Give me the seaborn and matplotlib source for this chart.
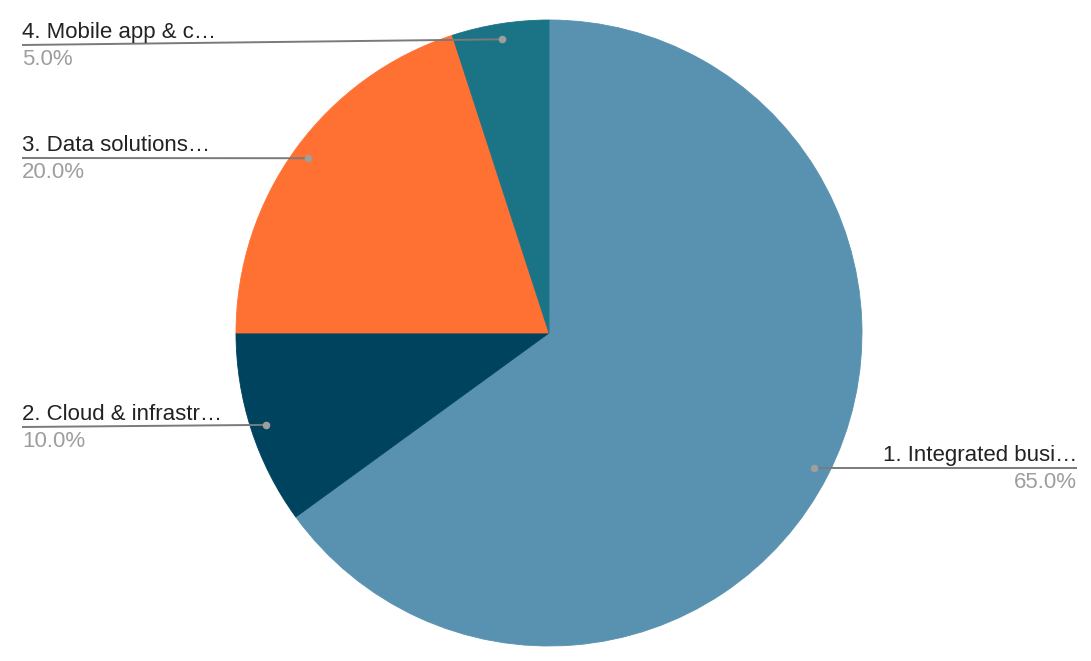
import numpy as np
import matplotlib
matplotlib.use("Agg")
import matplotlib.pyplot as plt
import seaborn as sns

# data
labels = ["1. Integrated busi…", "2. Cloud & infrastr…", "3. Data solutions…", "4. Mobile app & c…"]
values = [65, 10, 20, 5]
colors = ["#5892b0", "#00435f", "#ff7033", "#1b7386"]

W, H = 1091, 661
sns.set_theme(style="white")
plt.rcParams["font.family"] = ["Liberation Sans", "DejaVu Sans"]

fig = plt.figure(figsize=(W / 100, H / 100), dpi=100)
ax = fig.add_axes([0, 0, 1, 1])

cx, cy, R = 549, H - 333, 313
wedges, _ = ax.pie(values, colors=colors, startangle=90, counterclock=False,
                   center=(cx, cy), radius=R, wedgeprops=dict(linewidth=0.6))
for w, c in zip(wedges, colors):
    w.set_edgecolor(c)
ax.set_xlim(0, W)
ax.set_ylim(0, H)
ax.set_aspect("equal")
ax.axis("off")

# label anchors (pixel y of leader line, side)
label_pos = [(1077, 468, "right"), (22, 427, "left"), (22, 158, "left"), (22, 45, "left")]
total = sum(values)
for w, lab, v, (tx, ly, ha) in zip(wedges, labels, values, label_pos):
    th = np.deg2rad((w.theta1 + w.theta2) / 2)
    dx, dy = cx + 0.95 * R * np.cos(th), cy + 0.95 * R * np.sin(th)
    y = H - ly
    ax.plot([tx, dx], [y, dy], color="#7a7a7a", lw=1.4, solid_capstyle="butt", zorder=3)
    ax.scatter([dx], [dy], s=30, color="#9e9e9e", zorder=4, linewidths=0)
    ax.text(tx, y + 2, lab, ha=ha, va="bottom", fontsize=16, color="#222222")
    ax.text(tx, y - 4, f"{v / total * 100:.1f}%", ha=ha, va="top", fontsize=16, color="#9e9e9e")

plt.savefig("out.png", dpi=100)
